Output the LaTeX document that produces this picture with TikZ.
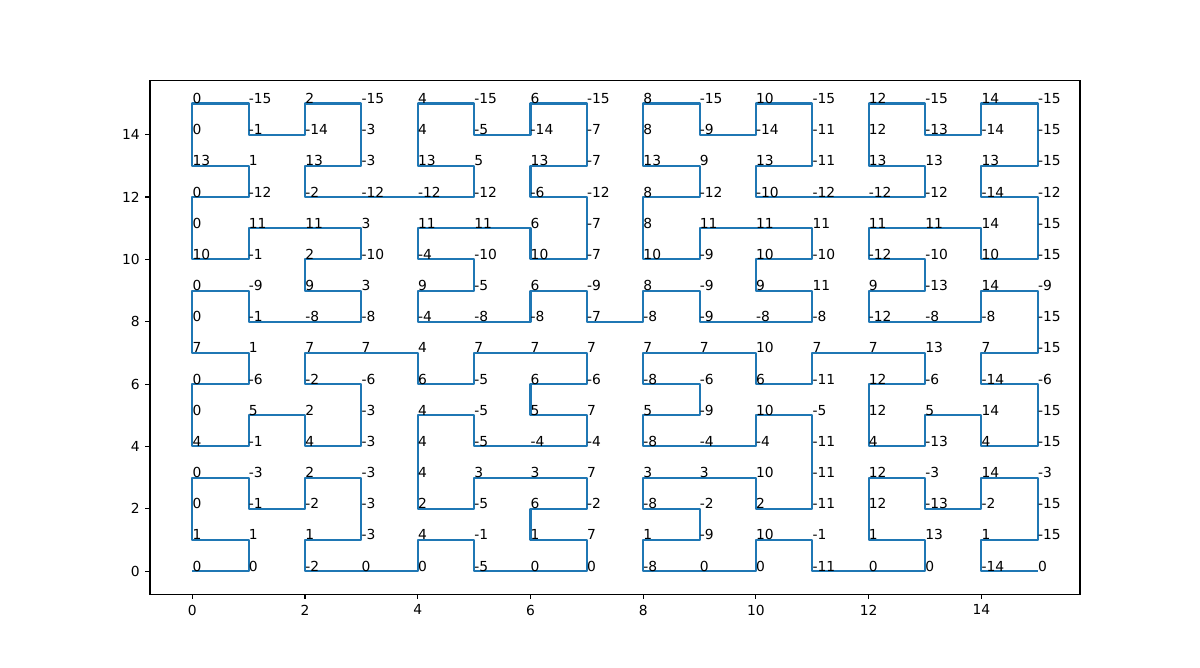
\documentclass[tikz,border=0pt]{standalone}
\usepackage{fontspec}
\setmainfont{DejaVu Sans}
\definecolor{curveblue}{HTML}{1F77B4}
\tikzset{
  curve/.style={draw=curveblue, line width=1.5pt, line join=round},
  spine/.style={draw=black, line width=0.8pt},
  ptlabel/.style={anchor=base west, inner sep=0pt, font=\fontsize{10}{12}\selectfont},
  ticklabel/.style={inner sep=0pt, font=\fontsize{10}{12}\selectfont}
}
\begin{document}
\begin{tikzpicture}
  \useasboundingbox (0,0) rectangle (30.48,16.9672);
  \begin{scope}[x=1.43164cm, y=0.7918cm, shift={(4.88373cm,2.4607cm)}]
  % the curve
  \draw[curve] (0,0) -- (1,0) -- (1,1) -- (0,1) -- (0,3) -- (1,3) -- (1,2) -- (2,2)
    -- (2,3) -- (3,3) -- (3,1) -- (2,1) -- (2,0) -- (4,0) -- (4,1) -- (5,1) -- (5,0)
    -- (7,0) -- (7,1) -- (6,1) -- (6,2) -- (7,2) -- (7,3) -- (5,3) -- (5,2) -- (4,2)
    -- (4,5) -- (5,5) -- (5,4) -- (7,4) -- (7,5) -- (6,5) -- (6,6) -- (7,6) -- (7,7)
    -- (5,7) -- (5,6) -- (4,6) -- (4,7) -- (2,7) -- (2,6) -- (3,6) -- (3,4) -- (2,4)
    -- (2,5) -- (1,5) -- (1,4) -- (0,4) -- (0,6) -- (1,6) -- (1,7) -- (0,7) -- (0,9)
    -- (1,9) -- (1,8) -- (3,8) -- (3,9) -- (2,9) -- (2,10) -- (3,10) -- (3,11) -- (1,11)
    -- (1,10) -- (0,10) -- (0,12) -- (1,12) -- (1,13) -- (0,13) -- (0,15) -- (1,15)
    -- (1,14) -- (2,14) -- (2,15) -- (3,15) -- (3,13) -- (2,13) -- (2,12) -- (5,12)
    -- (5,13) -- (4,13) -- (4,15) -- (5,15) -- (5,14) -- (6,14) -- (6,15) -- (7,15)
    -- (7,13) -- (6,13) -- (6,12) -- (7,12) -- (7,10) -- (6,10) -- (6,11) -- (4,11)
    -- (4,10) -- (5,10) -- (5,9) -- (4,9) -- (4,8) -- (6,8) -- (6,9) -- (7,9) -- (7,8)
    -- (8,8) -- (8,9) -- (9,9) -- (9,8) -- (11,8) -- (11,9) -- (10,9) -- (10,10)
    -- (11,10) -- (11,11) -- (9,11) -- (9,10) -- (8,10) -- (8,12) -- (9,12) -- (9,13)
    -- (8,13) -- (8,15) -- (9,15) -- (9,14) -- (10,14) -- (10,15) -- (11,15) -- (11,13)
    -- (10,13) -- (10,12) -- (13,12) -- (13,13) -- (12,13) -- (12,15) -- (13,15)
    -- (13,14) -- (14,14) -- (14,15) -- (15,15) -- (15,13) -- (14,13) -- (14,12)
    -- (15,12) -- (15,10) -- (14,10) -- (14,11) -- (12,11) -- (12,10) -- (13,10)
    -- (13,9) -- (12,9) -- (12,8) -- (14,8) -- (14,9) -- (15,9) -- (15,7) -- (14,7)
    -- (14,6) -- (15,6) -- (15,4) -- (14,4) -- (14,5) -- (13,5) -- (13,4) -- (12,4)
    -- (12,6) -- (13,6) -- (13,7) -- (11,7) -- (11,6) -- (10,6) -- (10,7) -- (8,7)
    -- (8,6) -- (9,6) -- (9,5) -- (8,5) -- (8,4) -- (10,4) -- (10,5) -- (11,5) -- (11,2)
    -- (10,2) -- (10,3) -- (8,3) -- (8,2) -- (9,2) -- (9,1) -- (8,1) -- (8,0) -- (10,0)
    -- (10,1) -- (11,1) -- (11,0) -- (13,0) -- (13,1) -- (12,1) -- (12,3) -- (13,3)
    -- (13,2) -- (14,2) -- (14,3) -- (15,3) -- (15,1) -- (14,1) -- (14,0) -- (15,0);
  % point labels, one row per y
  \foreach \yy/\vals in {
    15/{0,-15,2,-15,4,-15,6,-15,8,-15,10,-15,12,-15,14,-15},
    14/{0,-1,-14,-3,4,-5,-14,-7,8,-9,-14,-11,12,-13,-14,-15},
    13/{13,1,13,-3,13,5,13,-7,13,9,13,-11,13,13,13,-15},
    12/{0,-12,-2,-12,-12,-12,-6,-12,8,-12,-10,-12,-12,-12,-14,-12},
    11/{0,11,11,3,11,11,6,-7,8,11,11,11,11,11,14,-15},
    10/{10,-1,2,-10,-4,-10,10,-7,10,-9,10,-10,-12,-10,10,-15},
    9/{0,-9,9,3,9,-5,6,-9,8,-9,9,11,9,-13,14,-9},
    8/{0,-1,-8,-8,-4,-8,-8,-7,-8,-9,-8,-8,-12,-8,-8,-15},
    7/{7,1,7,7,4,7,7,7,7,7,10,7,7,13,7,-15},
    6/{0,-6,-2,-6,6,-5,6,-6,-8,-6,6,-11,12,-6,-14,-6},
    5/{0,5,2,-3,4,-5,5,7,5,-9,10,-5,12,5,14,-15},
    4/{4,-1,4,-3,4,-5,-4,-4,-8,-4,-4,-11,4,-13,4,-15},
    3/{0,-3,2,-3,4,3,3,7,3,3,10,-11,12,-3,14,-3},
    2/{0,-1,-2,-3,2,-5,6,-2,-8,-2,2,-11,12,-13,-2,-15},
    1/{1,1,1,-3,4,-1,1,7,1,-9,10,-1,1,13,1,-15},
    0/{0,0,-2,0,0,-5,0,0,-8,0,0,-11,0,0,-14,0}}{
    \foreach \v [count=\xx from 0] in \vals
      \node[ptlabel] (p\xx-\yy) at (\xx,\yy) {\v};
  }
  % axes frame and ticks
  \draw[spine] (-0.75,-0.75) rectangle (15.75,15.75);
  \foreach \t in {0,2,...,14} {
    \draw[spine] (\t,-0.75) -- ++(0,-3.5pt)
      node[ticklabel, anchor=north, yshift=-3.5pt] (xt\t) {\t};
    \draw[spine] (-0.75,\t) -- ++(-3.5pt,0)
      node[ticklabel, anchor=east, xshift=-3.5pt] (yt\t) {\t};
  }
  \end{scope}
\end{tikzpicture}
\end{document}
